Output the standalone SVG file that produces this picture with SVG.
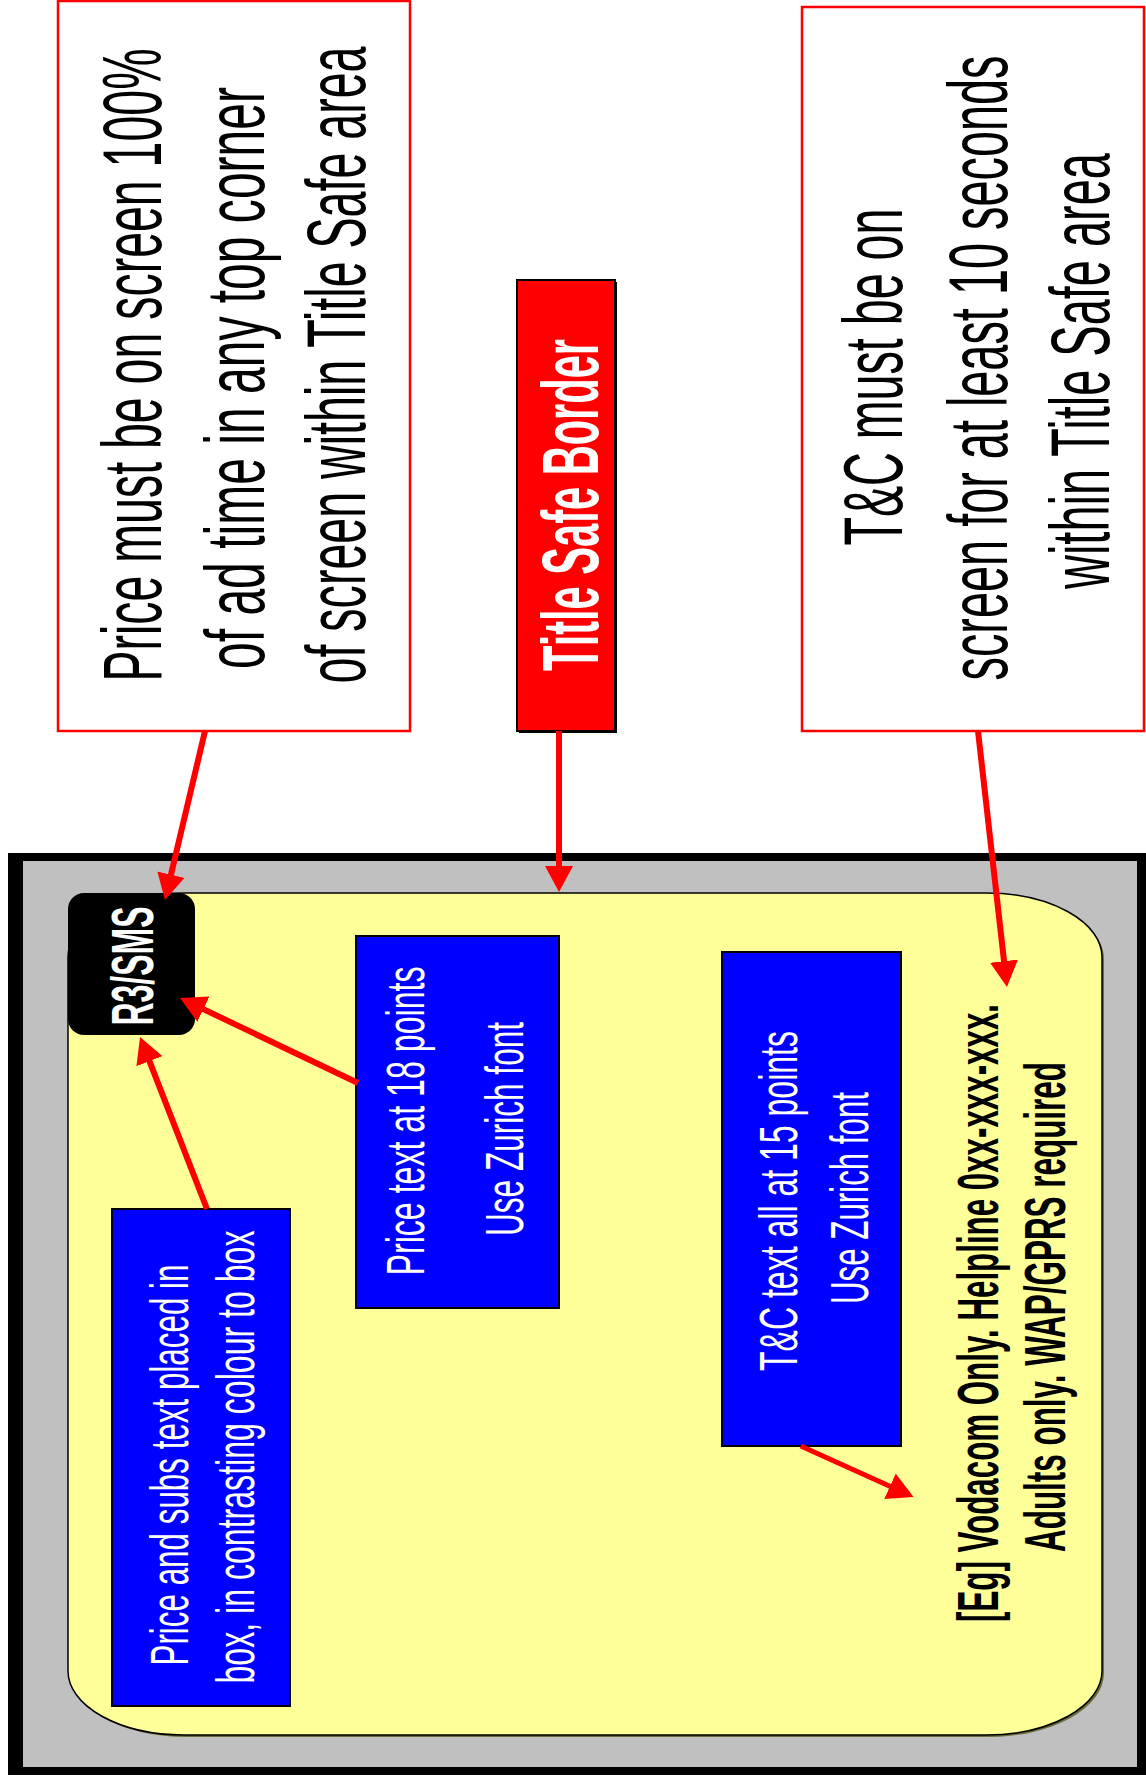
<svg xmlns="http://www.w3.org/2000/svg" width="1146" height="1780" viewBox="0 0 1146 1780">
  <style>
    .note { fill: #ffffff; stroke: #ff0000; stroke-width: 2.5; }
    .t-note { font-family: "Liberation Sans", Arial, sans-serif; font-size: 46.7px; fill: #000000; text-anchor: middle; }
    .t-title { font-family: "Liberation Sans", Arial, sans-serif; font-size: 41.5px; font-weight: bold; fill: #ffffff; text-anchor: middle; }
    .blue { fill: #0000ff; stroke: #000000; stroke-width: 2; }
    .t-blue { font-family: "Liberation Sans", Arial, sans-serif; font-size: 32px; fill: #ffffff; text-anchor: middle; }
    .t-tc { font-family: "Liberation Sans", Arial, sans-serif; font-size: 31.2px; font-weight: bold; fill: #000000; text-anchor: middle; }
    .t-price { font-family: "Liberation Sans", Arial, sans-serif; font-size: 32px; font-weight: bold; fill: #ffffff; text-anchor: middle; }
    .arrow { stroke: #ff0000; stroke-width: 6; fill: none; marker-end: url(#head); }
  </style>
  <defs>
    <marker id="head" markerUnits="userSpaceOnUse" viewBox="0 0 26 28" markerWidth="26" markerHeight="28" refX="6" refY="14" orient="auto">
      <path d="M0,0 L26,14 L0,28 z" fill="#ff0000"/>
    </marker>
  </defs>

  <rect width="1146" height="1780" fill="#ffffff"/>

  <!-- Screen frame -->
  <g id="screen">
    <rect x="8" y="853" width="1138" height="922" fill="#000000"/>
    <rect x="23" y="861" width="1114" height="906" fill="#c0c0c0"/>
    <rect x="70" y="895" width="1034" height="842" rx="116" ry="64" fill="#6b6b3c"/>
    <rect id="title-safe-area" x="68" y="893" width="1034" height="842" rx="116" ry="64" fill="#ffff99" stroke="#000000" stroke-width="1.5"/>
  </g>

  <!-- Top note: price -->
  <g id="note-price">
    <rect class="note" x="58" y="1" width="352" height="730"/>
    <text class="t-note" transform="translate(161,365) rotate(-90) scale(1,1.8)" textLength="633" lengthAdjust="spacingAndGlyphs">Price must be on screen 100%</text>
    <text class="t-note" transform="translate(264,378) rotate(-90) scale(1,1.8)" textLength="582" lengthAdjust="spacingAndGlyphs">of ad time in any top corner</text>
    <text class="t-note" transform="translate(365,365) rotate(-90) scale(1,1.8)" textLength="637" lengthAdjust="spacingAndGlyphs">of screen within Title Safe area</text>
  </g>

  <!-- Title Safe Border label -->
  <g id="title-safe-border">
    <rect x="519" y="282" width="98" height="451" fill="#000000"/>
    <rect x="517" y="280" width="98" height="451" fill="#ff0000" stroke="#000000" stroke-width="2"/>
    <text class="t-title" transform="translate(598,505) rotate(-90) scale(1,1.93)" textLength="332" lengthAdjust="spacingAndGlyphs">Title Safe Border</text>
  </g>

  <!-- Top note: T&C -->
  <g id="note-tc">
    <rect class="note" x="802" y="7" width="342" height="724"/>
    <text class="t-note" transform="translate(902,377) rotate(-90) scale(1,1.8)" textLength="337" lengthAdjust="spacingAndGlyphs">T&amp;C must be on</text>
    <text class="t-note" transform="translate(1007,368) rotate(-90) scale(1,1.8)" textLength="625" lengthAdjust="spacingAndGlyphs">screen for at least 10 seconds</text>
    <text class="t-note" transform="translate(1109,371) rotate(-90) scale(1,1.8)" textLength="436" lengthAdjust="spacingAndGlyphs">within Title Safe area</text>
  </g>

  <!-- R3/SMS price box -->
  <g id="price-box">
    <rect x="68" y="893" width="127" height="142" rx="16" ry="16" fill="#000000"/>
    <text class="t-price" transform="translate(153,966) rotate(-90) scale(1,1.83)" textLength="119" lengthAdjust="spacingAndGlyphs">R3/SMS</text>
  </g>

  <!-- Blue note 1 -->
  <g id="note-contrast">
    <rect class="blue" x="112" y="1209" width="178" height="497"/>
    <text class="t-blue" transform="translate(188,1465) rotate(-90) scale(1,1.69)" textLength="401" lengthAdjust="spacingAndGlyphs">Price and subs text placed in</text>
    <text class="t-blue" transform="translate(254,1457) rotate(-90) scale(1,1.69)" textLength="453" lengthAdjust="spacingAndGlyphs">box, in contrasting colour to box</text>
  </g>

  <!-- Blue note 2 -->
  <g id="note-price-font">
    <rect class="blue" x="356" y="936" width="203" height="372"/>
    <text class="t-blue" transform="translate(424,1121) rotate(-90) scale(1,1.69)" textLength="309" lengthAdjust="spacingAndGlyphs">Price text at 18 points</text>
    <text class="t-blue" transform="translate(523,1129) rotate(-90) scale(1,1.69)" textLength="214" lengthAdjust="spacingAndGlyphs">Use Zurich font</text>
  </g>

  <!-- Blue note 3 -->
  <g id="note-tc-font">
    <rect class="blue" x="722" y="952" width="179" height="494"/>
    <text class="t-blue" transform="translate(797,1201) rotate(-90) scale(1,1.69)" textLength="340" lengthAdjust="spacingAndGlyphs">T&amp;C text all at 15 points</text>
    <text class="t-blue" transform="translate(868,1198) rotate(-90) scale(1,1.69)" textLength="212" lengthAdjust="spacingAndGlyphs">Use Zurich font</text>
  </g>

  <!-- T&C example text -->
  <g id="tc-text">
    <text class="t-tc" transform="translate(998,1313) rotate(-90) scale(1,1.86)" textLength="618" lengthAdjust="spacingAndGlyphs">[Eg] Vodacom Only. Helpline 0xx-xxx-xxx.</text>
    <text class="t-tc" transform="translate(1065,1307) rotate(-90) scale(1,1.86)" textLength="490" lengthAdjust="spacingAndGlyphs">Adults only. WAP/GPRS required</text>
  </g>

  <!-- Connectors -->
  <g id="connectors">
    <line class="arrow" x1="205" y1="731" x2="169.6" y2="880.5"/>
    <line class="arrow" x1="559" y1="731" x2="559" y2="872"/>
    <line class="arrow" x1="978" y1="731" x2="1004.7" y2="967.1"/>
    <line class="arrow" x1="358" y1="1083" x2="198" y2="1006.6"/>
    <line class="arrow" x1="207" y1="1209" x2="147.3" y2="1055.6"/>
    <line class="arrow" style="stroke-width:5" x1="800.7" y1="1446" x2="895.4" y2="1488.8"/>
  </g>
</svg>
